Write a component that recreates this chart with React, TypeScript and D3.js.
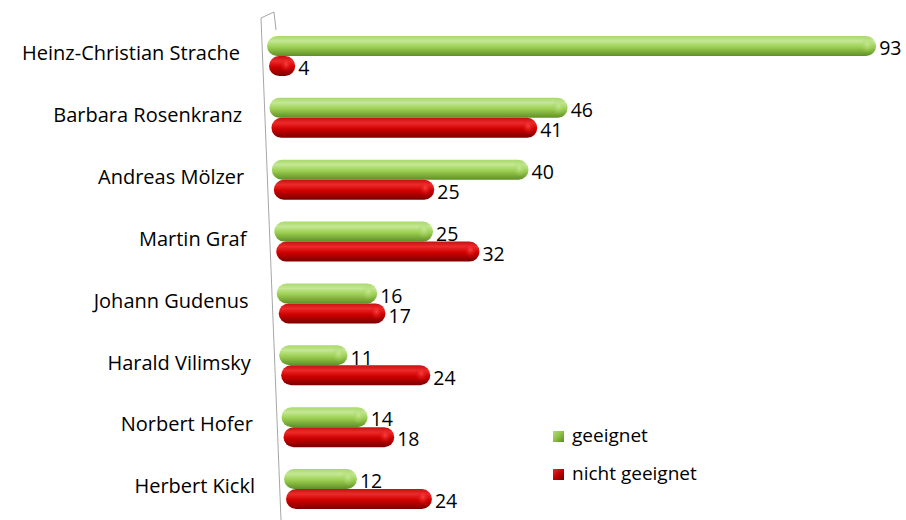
import * as d3 from 'd3';

const categories = [
  'Heinz-Christian Strache',
  'Barbara Rosenkranz',
  'Andreas Mölzer',
  'Martin Graf',
  'Johann Gudenus',
  'Harald Vilimsky',
  'Norbert Hofer',
  'Herbert Kickl',
];
const geeignet = [93, 46, 40, 25, 16, 11, 14, 12];
const nichtGeeignet = [4, 41, 25, 32, 17, 24, 18, 24];
const seriesNames = ['geeignet', 'nicht geeignet'];

const W = 906;
const H = 520;
const FONT = '"Open Sans", Lato, sans-serif';

const App = () => {
  // row position (green bar centre) – fake 3D perspective
  const yRow = d3.scalePoint<string>().domain(categories).range([46, 479]);
  const rowIdx = d3.scaleLinear().domain([0, categories.length - 1]);
  const startX = rowIdx.copy().range([267, 284]);
  const pxPerUnit = rowIdx.copy().range([6.55, 6.08]);
  const labelRight = rowIdx.copy().range([240, 255]);

  const xFor = (i: number, shift: number) =>
    d3
      .scaleLinear()
      .domain([0, 100])
      .range([startX(i) + shift, startX(i) + shift + 100 * pxPerUnit(i)]);

  const barH = 20;
  const redOffset = 20;

  const bar = (x0: number, x1: number, cy: number, kind: 'g' | 'r', key: string) => {
    const w = Math.max(x1 - x0, barH);
    return (
      <g key={key}>
        <rect
          x={x0}
          y={cy - barH / 2}
          width={w}
          height={barH}
          rx={barH / 2}
          ry={barH / 2}
          fill={`url(#cyl-${kind})`}
        />
        <ellipse
          cx={x0 + w - barH * 0.45}
          cy={cy - 1}
          rx={barH * 0.3}
          ry={barH * 0.38}
          fill={`url(#cap-${kind})`}
        />
      </g>
    );
  };

  return (
    <svg width={W} height={H} style={{ position: 'absolute', left: 0, top: 0, background: '#fff' }}>
      <defs>
        <linearGradient id="cyl-g" x1="0" y1="0" x2="0" y2="1">
          <stop offset="0" stopColor="#a9d86a" />
          <stop offset="0.25" stopColor="#c4e894" />
          <stop offset="0.55" stopColor="#9ccf52" />
          <stop offset="1" stopColor="#5f8f25" />
        </linearGradient>
        <linearGradient id="cyl-r" x1="0" y1="0" x2="0" y2="1">
          <stop offset="0" stopColor="#c41010" />
          <stop offset="0.25" stopColor="#ee2a2a" />
          <stop offset="0.55" stopColor="#cf0000" />
          <stop offset="1" stopColor="#7a0000" />
        </linearGradient>
        <radialGradient id="cap-g" cx="0.5" cy="0.45" r="0.6">
          <stop offset="0" stopColor="#c8ea98" stopOpacity="0.8" />
          <stop offset="1" stopColor="#9ccf52" stopOpacity="0" />
        </radialGradient>
        <radialGradient id="cap-r" cx="0.5" cy="0.45" r="0.6">
          <stop offset="0" stopColor="#ff4a4a" stopOpacity="0.8" />
          <stop offset="1" stopColor="#d00000" stopOpacity="0" />
        </radialGradient>
        <linearGradient id="leg-g" x1="0" y1="0" x2="1" y2="1">
          <stop offset="0" stopColor="#b5dc7c" />
          <stop offset="0.5" stopColor="#8cc043" />
          <stop offset="1" stopColor="#5a8a22" />
        </linearGradient>
        <linearGradient id="leg-r" x1="0" y1="0" x2="1" y2="1">
          <stop offset="0" stopColor="#e03030" />
          <stop offset="0.5" stopColor="#c00000" />
          <stop offset="1" stopColor="#700000" />
        </linearGradient>
      </defs>

      {/* back wall */}
      <g stroke="#a6a6a6" strokeWidth={1} fill="none">
        <path d="M261,18 L274,12 L276,30" />
        <path d="M261,18 L281,520" />
      </g>

      {categories.map((c, i) => {
        const cy = yRow(c)!;
        const xg = xFor(i, 0);
        const xr = xFor(i, 2);
        const gEnd = Math.max(xg(geeignet[i]), xg(0) + barH);
        const rEnd = Math.max(xr(nichtGeeignet[i]), xr(0) + barH);
        return (
          <g key={c}>
            <text
              x={labelRight(i)}
              y={cy + 9}
              textAnchor="end"
              dominantBaseline="middle"
              fontFamily={FONT}
              fontSize={20}
              fill="#000"
            >
              {c}
            </text>
            {bar(xg(0), gEnd, cy, 'g', 'g')}
            {bar(xr(0), rEnd, cy + redOffset, 'r', 'r')}
            <text
              x={gEnd + 3}
              y={cy + 4}
              dominantBaseline="middle"
              fontFamily={FONT}
              fontSize={19.5}
              fill="#000"
            >
              {geeignet[i]}
            </text>
            <text
              x={rEnd + 3}
              y={cy + redOffset + 4}
              dominantBaseline="middle"
              fontFamily={FONT}
              fontSize={19.5}
              fill="#000"
            >
              {nichtGeeignet[i]}
            </text>
          </g>
        );
      })}

      {/* legend */}
      {seriesNames.map((s, k) => (
        <g key={s} transform={`translate(553, ${431 + k * 38})`}>
          <rect x={0} y={0} width={11} height={11} fill={k === 0 ? 'url(#leg-g)' : 'url(#leg-r)'} />
          <text x={19} y={6} dominantBaseline="middle" fontFamily={FONT} fontSize={19} fill="#000">
            {s}
          </text>
        </g>
      ))}
    </svg>
  );
};

export default App;
